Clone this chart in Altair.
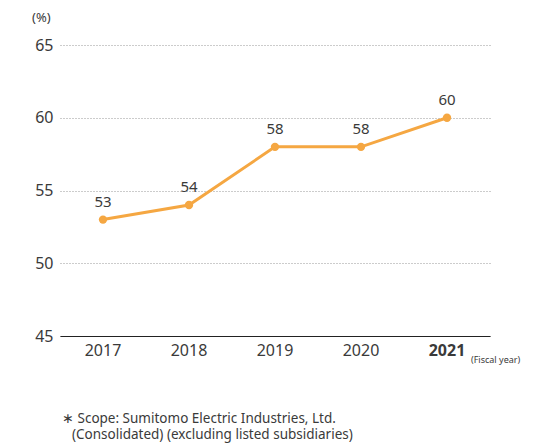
import altair as alt
import pandas as pd

years = ["2017", "2018", "2019", "2020", "2021"]
values = [53, 54, 58, 58, 60]
y_ticks = [45, 50, 55, 60, 65]

df = pd.DataFrame({"year": years, "value": values})

FONT = "Noto Sans"
ORANGE = "#F5A742"
TXT = "#3a3a3a"

x = alt.X("year:N", sort=years,
          scale=alt.Scale(type="band", paddingInner=0, paddingOuter=0),
          axis=alt.Axis(title=None, labelAngle=0, labelFontSize=16, labelColor=TXT,
                        labelFont=FONT, ticks=False, domainColor="#222", domainWidth=1.2,
                        labelPadding=6, grid=False,
                        labelFontWeight=alt.expr("datum.label == '2021' ? 'bold' : 'normal'")))
y = alt.Y("value:Q", scale=alt.Scale(domain=[45, 65], nice=False, zero=False),
          axis=alt.Axis(title=None, values=y_ticks, labelFontSize=16, labelColor=TXT,
                        labelFont=FONT, ticks=False, domain=False, labelPadding=7,
                        grid=True, gridDash=[1, 2], gridColor="#999", gridWidth=1))

base = alt.Chart(df)
line = base.mark_line(color=ORANGE, strokeWidth=3).encode(x=x, y=y)
pts = base.mark_point(filled=True, color=ORANGE, size=70, opacity=1).encode(x=x, y=y)
lbl = base.mark_text(dy=-18, fontSize=15, color=TXT, font=FONT).encode(
    x=x, y=y, text="value:Q")

notes = pd.DataFrame({
    "t": ["(%)", "(Fiscal year)", "\u2217 Scope: Sumitomo Electric Industries, Ltd.",
          "(Consolidated) (excluding listed subsidiaries)"],
    "px": [-28, 411, 2, 12],
    "py": [-27, 315, 374, 390],
    "fs": [13, 9, 13.5, 13.5],
})
ann = alt.Chart(notes).mark_text(align="left", baseline="middle", font=FONT, color=TXT).encode(
    x=alt.X("px:Q", scale=None), y=alt.Y("py:Q", scale=None),
    text="t:N", size=alt.Size("fs:Q", scale=None, legend=None))

chart = alt.layer(line, pts, lbl, ann).properties(
    width=430, height=291,
    autosize=alt.AutoSizeParams(type="none"),
    padding={"left": 52, "top": 37, "right": 43, "bottom": 108},
).configure(background="white").configure_view(stroke=None, strokeWidth=0)

chart.save("out.html", embed_options={"renderer": "svg", "actions": False})
